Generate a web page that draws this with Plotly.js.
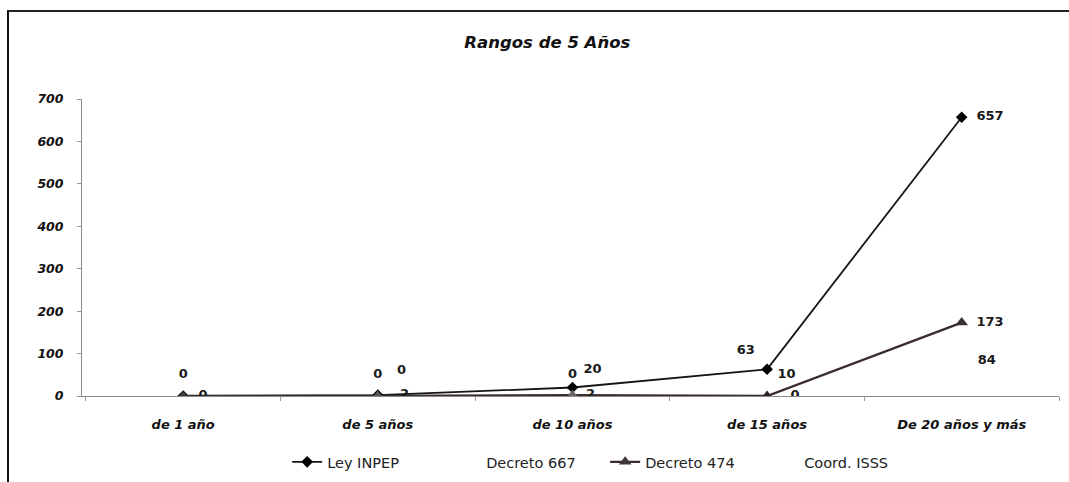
<!DOCTYPE html>
<html>
<head>
<meta charset="utf-8">
<script src="https://cdn.plot.ly/plotly-3.0.1.min.js"></script>
<style>
  html, body { margin: 0; padding: 0; background: #fff; }
  #wrap { position: relative; width: 1069px; height: 482px; overflow: hidden; }
  #chart { width: 1069px; height: 482px; }
  #frame { position: absolute; left: 7px; top: 10px; right: -4px; bottom: -4px;
           border-left: 2px solid #111; border-top: 2px solid #222; pointer-events: none; }
</style>
</head>
<body>
<div id="wrap">
  <div id="chart"></div>
  <div id="frame"></div>
</div>
<script>
// ---- data ----
const categories = ["de 1 año", "de 5 años", "de 10 años", "de 15 años", "De 20 años y más"];
const leyINPEP   = [0, 2, 20, 63, 657];
const decreto667 = [0, 0, 0, 10, 84];
const decreto474 = [0, 0, 2, 0, 173];
const coordISSS  = [null, 0, null, null, null];
const seriesNames = ["Ley INPEP", "Decreto 667", "Decreto 474", "Coord. ISSS"];

// which data labels are visible in the picture
const inpepLabelShown = [true, true, true, true, true];
const d667LabelShown  = [true, true, true, true, true];
const d474LabelShown  = [false, false, true, true, true];
const isssLabelShown  = [false, true, false, false, false];

// ---- marker / label placement styles (label offset driven by an invisible marker size) ----
const d474MarkerColor = ["#3f3838", "#5a5454", "#6a6464", "#2a2222", "#3a3030"];
const inpepPos  = ["middle right", "middle right", "top right", "top left", "middle right"];
const inpepOff  = [23, 34, 16, 18, 22];
const d667Pos   = ["top center", "top center", "top center", "top right", "middle right"];
const d667Off   = [22, 22, 22, 15, 24];
const d474Pos   = ["middle right", "middle right", "middle right", "middle right", "middle right"];
const d474Off   = [20, 20, 20, 36, 22];
const isssPos   = ["top right", "top right", "top right", "top right", "top right"];
const isssOff   = [29, 29, 29, 29, 29];

const FONT = "DejaVu Sans, Verdana, sans-serif";
const labelFont = { family: FONT, size: 13, color: "#1a1a1a", weight: "bold" };
function labels(vals, shown) { return vals.map((v, i) => (shown[i] && v !== null) ? String(v) : ""); }
function labelTrace(vals, shown, pos, off) {
  return { x: categories, y: vals, type: "scatter", mode: "markers+text", showlegend: false, hoverinfo: "skip",
           marker: { size: off, opacity: 0, color: "rgba(0,0,0,0)", line: { width: 0 } },
           text: labels(vals, shown), textposition: pos, textfont: labelFont };
}

const traces = [
  { name: seriesNames[0], x: categories, y: leyINPEP, type: "scatter", mode: "lines+markers",
    line: { color: "#151515", width: 1.8 },
    marker: { symbol: "diamond", size: 9, color: "#000", line: { width: 0 } },
    hoverinfo: "skip" },
  { name: seriesNames[1], x: categories, y: decreto667, type: "scatter", mode: "lines",
    line: { color: "rgba(0,0,0,0)", width: 1 }, hoverinfo: "skip" },
  { name: seriesNames[2], x: categories, y: decreto474, type: "scatter", mode: "lines+markers",
    line: { color: "#3a2c2c", width: 2.4 },
    marker: { symbol: "triangle-up", size: 11, color: d474MarkerColor, line: { width: 0 } },
    hoverinfo: "skip" },
  { name: seriesNames[3], x: categories, y: coordISSS, type: "scatter", mode: "lines",
    line: { color: "rgba(0,0,0,0)", width: 1 }, hoverinfo: "skip" },
  labelTrace(leyINPEP, inpepLabelShown, inpepPos, inpepOff),
  labelTrace(decreto667, d667LabelShown, d667Pos, d667Off),
  labelTrace(decreto474, d474LabelShown, d474Pos, d474Off),
  labelTrace(coordISSS, isssLabelShown, isssPos, isssOff)
];

const tickFont = { family: FONT, size: 13, color: "#111", weight: "bold", style: "italic" };

const layout = {
  width: 1069, height: 482,
  paper_bgcolor: "#fff", plot_bgcolor: "#fff",
  margin: { l: 82, r: 10, t: 99, b: 86, autoexpand: false },
  title: { text: "Rangos de 5 Años", x: 0.512, xref: "container", xanchor: "center",
           y: 0.913, yanchor: "middle",
           font: { family: FONT, size: 16.5, color: "#111", weight: "bold", style: "italic" } },
  xaxis: { type: "category", range: [-0.52, 4.5], showgrid: false, zeroline: false,
           showline: true, linecolor: "#8a8a8a", linewidth: 1,
           ticks: "outside", tickson: "boundaries", ticklen: 4, tickcolor: "#999",
           tickfont: tickFont, ticklabelstandoff: 16, fixedrange: true },
  yaxis: { range: [0, 700], dtick: 100, showgrid: false, zeroline: false,
           showline: true, linecolor: "#8a8a8a", linewidth: 1,
           ticks: "outside", ticklen: 4, tickcolor: "#999",
           tickfont: { family: FONT, size: 12.5, color: "#111", weight: "bold", style: "italic" },
           ticklabelstandoff: 11, fixedrange: true },
  showlegend: true,
  legend: { orientation: "h", x: 0.21, xanchor: "left", y: -0.222, yanchor: "middle",
            entrywidth: 114, entrywidthmode: "pixels",
            font: { family: FONT, size: 14.5, color: "#222" },
            bgcolor: "rgba(0,0,0,0)", itemclick: false, itemdoubleclick: false }
};

Plotly.newPlot("chart", traces, layout, { displayModeBar: false, staticPlot: true });
</script>
</body>
</html>
